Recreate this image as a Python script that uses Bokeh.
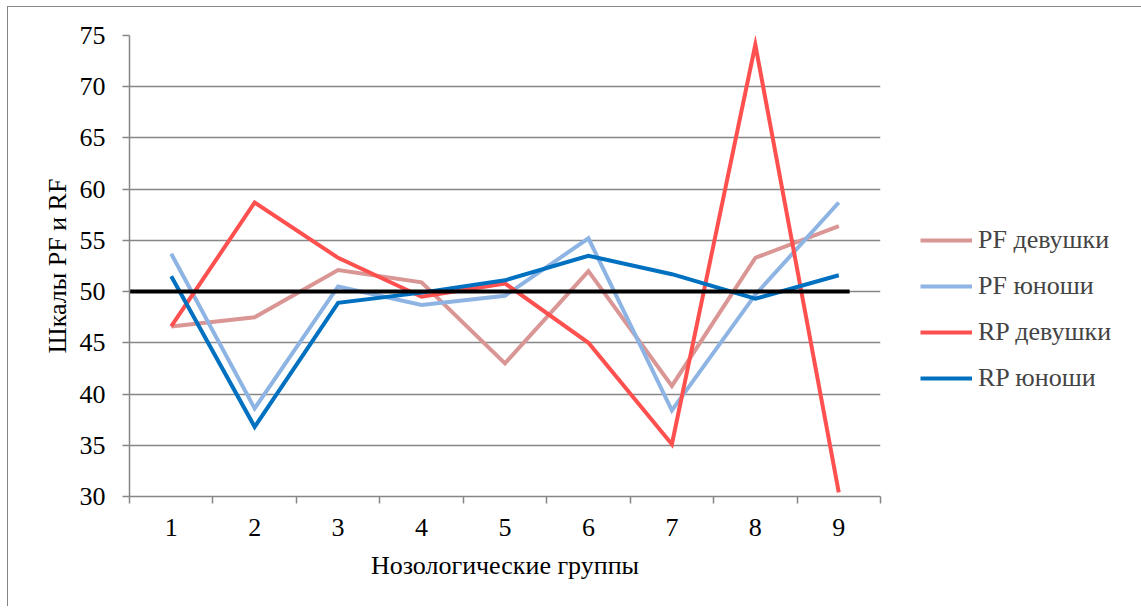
from bokeh.plotting import figure
from bokeh.models import FixedTicker, Legend, LegendItem, Range1d
from bokeh.embed import file_html
from bokeh.resources import INLINE

groups = [1, 2, 3, 4, 5, 6, 7, 8, 9]
tick_labels = {g: str(g) for g in groups}
pf_girls = [46.6, 47.5, 52.1, 50.9, 43.0, 52.0, 40.8, 53.3, 56.4]
pf_boys = [53.7, 38.6, 50.5, 48.7, 49.6, 55.2, 38.4, 49.7, 58.7]
rp_girls = [46.6, 58.7, 53.3, 49.5, 50.8, 45.0, 35.1, 74.1, 30.4]
rp_boys = [51.5, 36.8, 48.9, 49.9, 51.1, 53.5, 51.7, 49.3, 51.6]
ref_x = [0.5, 9.13]
ref_y = [50, 50]

series_names = ["PF девушки", "PF юноши", "RP девушки", "RP юноши"]
series_colors = ["#D99694", "#8EB4E3", "#FF5050", "#0070C0"]

FONT = "Liberation Serif"
FS = "26px"
GRAY = "#868686"

p = figure(frame_width=751, frame_height=461,
           min_border_left=121, min_border_top=28, min_border_bottom=110, min_border_right=252,
           x_range=Range1d(0.5, 9.5), y_range=Range1d(30, 75),
           output_backend="svg", toolbar_location=None, tools="")
p.styles = {"border-left": "1px solid #868686", "border-top": "1px solid #868686",
            "margin-left": "7px", "margin-top": "6px"}
p.outline_line_color = None
p.background_fill_color = "white"

# grid
p.xgrid.grid_line_color = None
p.ygrid.grid_line_color = GRAY
p.ygrid.grid_line_width = 1.5
p.ygrid.ticker = FixedTicker(ticks=list(range(30, 80, 5)))

# y axis
p.yaxis.ticker = FixedTicker(ticks=list(range(30, 80, 5)))
p.yaxis.axis_line_color = GRAY
p.yaxis.axis_line_width = 1.5
p.yaxis.major_tick_line_color = GRAY
p.yaxis.major_tick_line_width = 1.5
p.yaxis.major_tick_out = 7
p.yaxis.major_tick_in = 0
p.yaxis.minor_tick_line_color = None
p.yaxis.major_label_text_font = FONT
p.yaxis.major_label_text_font_size = FS
p.yaxis.major_label_text_color = "black"
p.yaxis.major_label_standoff = 17
p.yaxis.axis_label = "Шкалы PF и RF"
p.yaxis.axis_label_text_font = FONT
p.yaxis.axis_label_text_font_size = FS
p.yaxis.axis_label_text_font_style = "normal"
p.yaxis.axis_label_text_color = "black"
p.yaxis.axis_label_standoff = 5

# x axis
p.xaxis.ticker = FixedTicker(ticks=groups, minor_ticks=[g - 0.5 for g in groups] + [9.5])
p.xaxis.major_label_overrides = tick_labels
p.xaxis.axis_line_color = GRAY
p.xaxis.axis_line_width = 1.5
p.xaxis.major_tick_line_color = None
p.xaxis.major_tick_out = 0
p.xaxis.major_tick_in = 0
p.xaxis.minor_tick_line_color = GRAY
p.xaxis.minor_tick_line_width = 1.5
p.xaxis.minor_tick_out = 7
p.xaxis.minor_tick_in = 0
p.xaxis.major_label_text_font = FONT
p.xaxis.major_label_text_font_size = FS
p.xaxis.major_label_text_color = "black"
p.xaxis.major_label_standoff = 15
p.xaxis.axis_label = "Нозологические группы"
p.xaxis.axis_label_text_font = FONT
p.xaxis.axis_label_text_font_size = FS
p.xaxis.axis_label_text_font_style = "normal"
p.xaxis.axis_label_text_color = "black"
p.xaxis.axis_label_standoff = 12

items = []
for name, color, vals in zip(series_names, series_colors, [pf_girls, pf_boys, rp_girls, rp_boys]):
    r = p.line(groups, vals, line_color=color, line_width=4, line_join="miter")
    items.append(LegendItem(label=name, renderers=[r]))

p.line(ref_x, ref_y, line_color="black", line_width=4)

legend = Legend(items=items, location=(40, 103), padding=0, margin=0,
                border_line_color=None, background_fill_alpha=0,
                glyph_width=52, glyph_height=20, label_standoff=6,
                label_text_font=FONT, label_text_font_size=FS,
                label_height=20, spacing=16)
p.add_layout(legend, "right")

open("out.html", "w").write(file_html(p, INLINE))
